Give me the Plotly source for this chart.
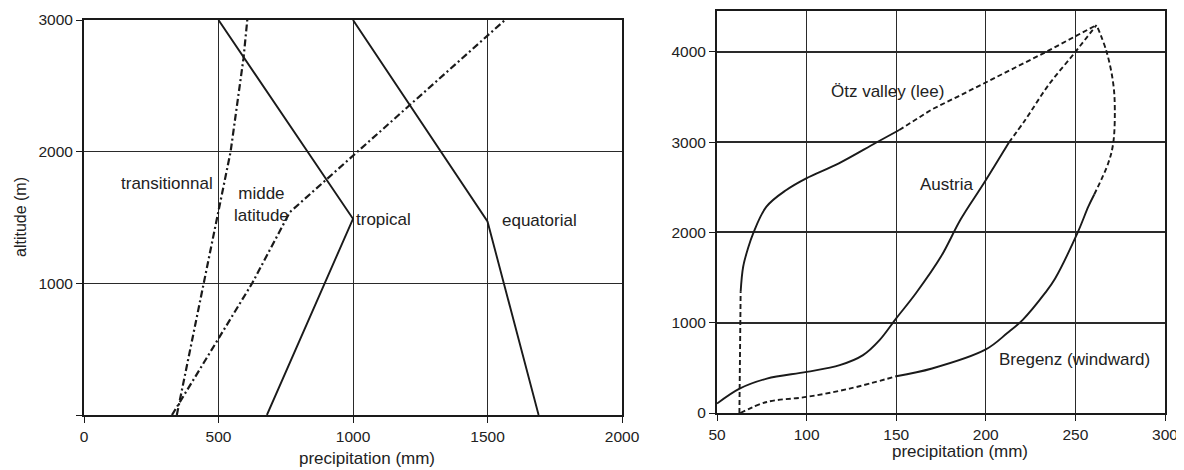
import plotly.graph_objects as go

# left panel: precipitation vs altitude by climate zone (mm, m)
trans_x = [345, 445, 495, 545, 593, 607]
trans_y = [0, 1000, 1490, 2000, 2710, 3000]
midlat_x = [327, 500, 625, 765, 1000, 1210, 1565]
midlat_y = [0, 583, 1000, 1540, 1970, 2355, 3000]
trop_x = [500, 1000, 680]
trop_y = [3000, 1490, 0]
equat_x = [1000, 1500, 1690]
equat_y = [3000, 1470, 0]

# right panel: Alps profiles, split where the original switches solid/dashed
otz_low_x = [62.5, 62.8, 63.2]
otz_low_y = [0, 1030, 1343]
otz_mid_x = [63.2, 64.6, 67.4, 70.2, 77.6, 88.7, 99.8, 118, 138.7, 151.7]
otz_mid_y = [1343, 1620, 1830, 1990, 2285, 2470, 2599, 2765, 2993, 3134]
otz_high_x = [151.7, 170, 185, 200.7, 233.2, 261.8]
otz_high_y = [3134, 3363, 3510, 3669, 3994, 4297]

aut_low_x = [50, 62.6, 77.8, 100, 118.5, 131.5, 140.7, 150, 161, 175, 186, 198.9, 212.8]
aut_low_y = [104, 270, 381, 455, 530, 641, 807, 1048, 1326, 1732, 2145, 2544, 2993]
aut_high_x = [212.8, 222, 235, 249.8, 261.8]
aut_high_y = [2993, 3245, 3632, 3994, 4297]

breg_low_x = [63, 77.8, 100, 124, 150]
breg_low_y = [0, 122, 178, 270, 407]
breg_mid_x = [150, 170, 200, 212, 220.6, 233, 238.7, 251.3, 257.2, 260.5]
breg_mid_y = [407, 493, 704, 885, 1032, 1327, 1490, 2000, 2285, 2420]
breg_high_x = [260.5, 268.3, 271.1, 272, 271.1, 267.4, 261.8]
breg_high_y = [2420, 2765, 2987, 3355, 3651, 4001, 4297]

INK = "#1a1a1a"
TXT = "#222"
FONT = "Liberation Sans, Arial, sans-serif"
TICK_FS = 15.5
LABEL_FS = 17
DASH = "5px,3px"
DASHDOT = "7px,3px,2px,3px"

# the page body has an 8px margin, so the figure is sized to fit inside it
W, H, OFF = 1176, 462, 8


def px_x(p):
    return (p - OFF) / W


def px_y(p):
    return 1 - (p - OFF) / H


fig = go.Figure()


def add_line(x, y, dash="solid", shape="linear", axes=("x", "y"), width=1.9):
    fig.add_trace(go.Scatter(
        x=x, y=y, mode="lines", xaxis=axes[0], yaxis=axes[1],
        line=dict(color=INK, width=width, dash=dash, shape=shape),
        showlegend=False, hoverinfo="skip",
    ))


add_line(trans_x, trans_y, DASHDOT, width=2.2)
add_line(midlat_x, midlat_y, DASHDOT, width=2.2)
add_line(trop_x, trop_y)
add_line(equat_x, equat_y)

right = ("x2", "y2")
add_line(otz_low_x, otz_low_y, DASH, axes=right)
add_line(otz_mid_x, otz_mid_y, shape="spline", axes=right)
add_line(otz_high_x, otz_high_y, DASH, axes=right)
add_line(aut_low_x, aut_low_y, shape="spline", axes=right)
add_line(aut_high_x, aut_high_y, DASH, shape="spline", axes=right)
add_line(breg_low_x, breg_low_y, DASH, shape="spline", axes=right)
add_line(breg_mid_x, breg_mid_y, shape="spline", axes=right)
add_line(breg_high_x, breg_high_y, DASH, shape="spline", axes=right)

axis_common = dict(
    showgrid=True, gridcolor="#2a2a2a", zeroline=False,
    showline=True, linecolor=INK, mirror=True, linewidth=2,
    ticks="outside", ticklen=6, tickcolor=INK, tickwidth=1.3,
    tickfont=dict(family=FONT, size=TICK_FS, color=TXT),
    automargin=False, fixedrange=True,
)

fig.update_layout(
    width=W, height=H,
    margin=dict(l=0, r=0, t=0, b=0),
    paper_bgcolor="white", plot_bgcolor="white",
    font=dict(family=FONT, size=LABEL_FS, color=TXT),
    xaxis=dict(axis_common, domain=[px_x(84), px_x(622)], range=[0, 2000],
               tickvals=[0, 500, 1000, 1500, 2000], gridwidth=1.2, anchor="y"),
    yaxis=dict(axis_common, domain=[px_y(415), px_y(20)], range=[0, 3000],
               tickvals=[0, 1000, 2000, 3000], ticktext=["", "1000", "2000", "3000"],
               gridwidth=1.4, anchor="x"),
    xaxis2=dict(axis_common, domain=[px_x(717), px_x(1165)], range=[50, 300],
                tickvals=[50, 100, 150, 200, 250, 300], gridwidth=1.4, anchor="y2"),
    yaxis2=dict(axis_common, domain=[px_y(413), px_y(10.7)], range=[0, 4455],
                tickvals=[0, 1000, 2000, 3000, 4000], gridwidth=1.6, anchor="x2"),
)

labels = [
    ("x", "y", 310, 1755, "transitionnal"),
    ("x", "y", 660, 1600, "midde<br>latitude"),
    ("x", "y", 1114, 1487, "tropical"),
    ("x", "y", 1694, 1474, "equatorial"),
    ("x2", "y2", 145.3, 3557, "Ötz valley (lee)"),
    ("x2", "y2", 178, 2525, "Austria"),
    ("x2", "y2", 249.7, 597, "Bregenz (windward)"),
]
for xr, yr, x, y, text in labels:
    fig.add_annotation(x=x, y=y, xref=xr, yref=yr, text=text, showarrow=False,
                       font=dict(family=FONT, size=LABEL_FS, color=TXT),
                       xanchor="center", yanchor="middle")

# axis titles placed in page pixels to match the figure
for x, y, text, angle, size in [
    (367, 458, "precipitation (mm)", 0, 17),
    (960, 451, "precipitation (mm)", 0, 17),
    (20.5, 217.5, "altitude (m)", -90, 16),
]:
    fig.add_annotation(x=px_x(x), y=px_y(y), xref="paper", yref="paper", text=text,
                       showarrow=False, textangle=angle,
                       font=dict(family=FONT, size=size, color=TXT),
                       xanchor="center", yanchor="middle")

fig.write_html("out.html")
